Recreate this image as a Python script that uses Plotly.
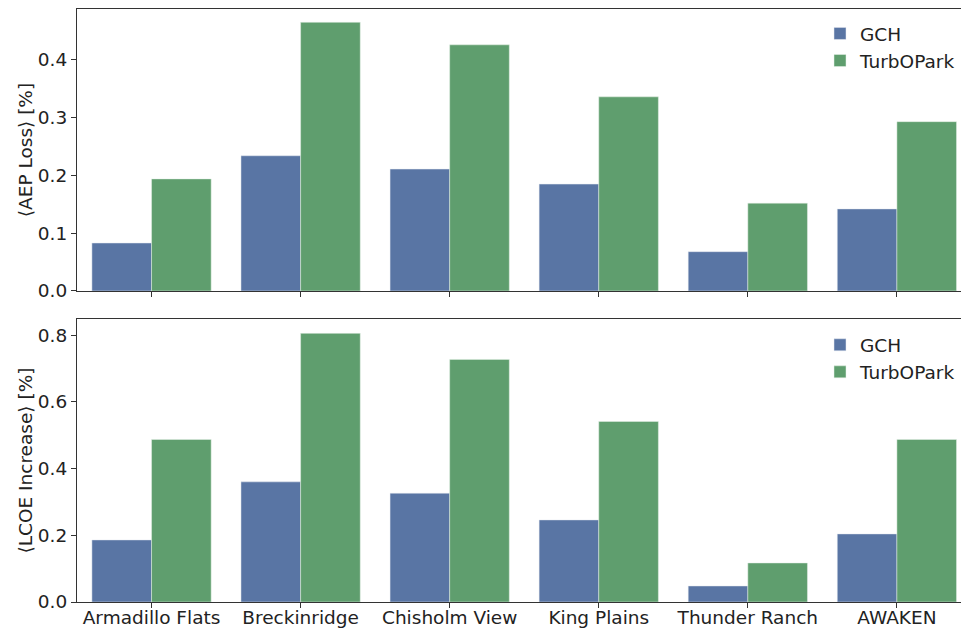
import plotly.graph_objects as go
from plotly.subplots import make_subplots

sites = ["Armadillo Flats", "Breckinridge", "Chisholm View", "King Plains", "Thunder Ranch", "AWAKEN"]
aep_gch = [0.083, 0.234, 0.211, 0.185, 0.068, 0.142]
aep_turbopark = [0.194, 0.465, 0.426, 0.336, 0.152, 0.293]
lcoe_gch = [0.186, 0.360, 0.326, 0.246, 0.048, 0.204]
lcoe_turbopark = [0.487, 0.805, 0.727, 0.541, 0.117, 0.487]

BLUE = "#5975a4"
GREEN = "#5f9e6e"
FONT = "DejaVu Sans"
FS = 18.5

fig = make_subplots(rows=2, cols=1, shared_xaxes=False, vertical_spacing=0.0)

panels = [(1, aep_gch, aep_turbopark, "legend"), (2, lcoe_gch, lcoe_turbopark, "legend2")]
for row, gch, tp, leg in panels:
    fig.add_trace(go.Bar(x=sites, y=gch, name="GCH",
                         marker=dict(color=BLUE, line=dict(color="#e6eaf0", width=0.5)),
                         legend=leg, offsetgroup="a"), row=row, col=1)
    fig.add_trace(go.Bar(x=sites, y=tp, name="TurbOPark",
                         marker=dict(color=GREEN, line=dict(color="#e6f0e8", width=0.5)),
                         legend=leg, offsetgroup="b"), row=row, col=1)

axis_common = dict(
    showline=True, linecolor="#333333", linewidth=1.2,
    ticks="outside", ticklen=5, tickwidth=1.1, tickcolor="#333333",
    showgrid=False, zeroline=False, automargin=False,
    tickfont=dict(family=FONT, size=FS, color="#222222"),
)

fig.update_xaxes(**axis_common, range=[-0.5, 5.43], mirror=True, ticklabelstandoff=-6)
fig.update_xaxes(showticklabels=False, row=1, col=1)
fig.update_yaxes(**axis_common)

title_font = dict(family=FONT, size=FS, color="#222222")
fig.update_yaxes(range=[0, 0.488], tickvals=[0, 0.1, 0.2, 0.3, 0.4], tickformat=".1f",
                 title=dict(text="⟨AEP Loss⟩ [%]", font=title_font, standoff=0),
                 domain=[0.5245, 1.0], row=1, col=1)
fig.update_yaxes(range=[0, 0.848], tickvals=[0, 0.2, 0.4, 0.6, 0.8], tickformat=".1f",
                 title=dict(text="⟨LCOE Increase⟩ [%]", font=title_font, standoff=0),
                 domain=[0.0, 0.4772], row=2, col=1)

legend_style = dict(font=dict(family=FONT, size=FS, color="#222222"), bgcolor="rgba(255,255,255,0)",
                    xanchor="right", yanchor="top", itemwidth=30, tracegroupgap=0)

fig.update_layout(
    barmode="group", bargap=0.2, bargroupgap=0.0,
    width=961, height=629,
    margin=dict(l=77, r=0, t=9, b=27),
    paper_bgcolor="white", plot_bgcolor="white",
    font=dict(family=FONT, size=FS, color="#222222"),
    legend=dict(**legend_style, x=1.0, y=0.99),
    legend2=dict(**legend_style, x=1.0, y=0.465),
)

fig.write_html("out.html")
